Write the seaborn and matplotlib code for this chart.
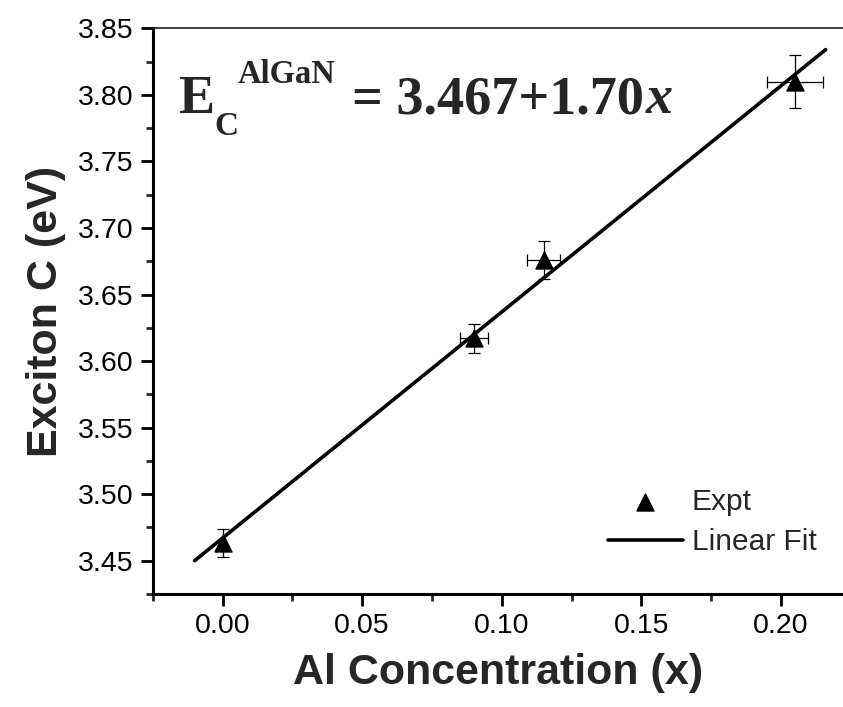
import matplotlib
matplotlib.use("Agg")
import matplotlib.pyplot as plt
import seaborn as sns
import pandas as pd

al_conc = [0.0, 0.09, 0.115, 0.205]
exciton_c = [3.463, 3.617, 3.676, 3.810]
x_err = [0.0, 0.005, 0.006, 0.010]
y_err = [0.0105, 0.011, 0.014, 0.020]

# linear fit line end points
fit_x = [-0.010, 0.216]
fit_y = [3.450, 3.834]

xticks = [0.00, 0.05, 0.10, 0.15, 0.20]
yticks = [3.45, 3.50, 3.55, 3.60, 3.65, 3.70, 3.75, 3.80, 3.85]

sns.set_style("ticks")
plt.rcParams["font.family"] = ["Liberation Sans", "DejaVu Sans"]

fig = plt.figure(figsize=(8.43, 7.07), dpi=100)
ax = fig.add_axes([152.7 / 843, 113 / 707, 1 - 152.7 / 843, (594 - 28.3) / 707])

df_fit = pd.DataFrame({"x": fit_x, "y": fit_y})
df_pts = pd.DataFrame({"x": al_conc, "y": exciton_c})

sns.lineplot(data=df_fit, x="x", y="y", ax=ax, color="black", lw=2.6,
             label="Linear Fit", zorder=2)
ax.errorbar(al_conc, exciton_c, xerr=x_err, yerr=y_err, fmt="none",
            ecolor="black", elinewidth=0.9, capsize=4.5, capthick=0.9, zorder=3)
sns.scatterplot(data=df_pts, x="x", y="y", ax=ax, marker="^", s=150,
                color="black", edgecolor="black", label="Expt", zorder=4)

ax.set_xlim(-0.025, 0.2222)
ax.set_ylim(3.425, 3.85)
ax.set_xticks(xticks)
ax.set_xticklabels([f"{v:.2f}" for v in xticks])
ax.set_yticks(yticks)
ax.set_yticklabels([f"{v:.2f}" for v in yticks])
ax.set_xticks([-0.025, 0.025, 0.075, 0.125, 0.175], minor=True)
ax.set_yticks([3.425, 3.475, 3.525, 3.575, 3.625, 3.675, 3.725, 3.775, 3.825], minor=True)
ax.tick_params(which="major", direction="out", length=8.5, width=2.0,
               labelsize=20.5, colors="black", pad=5)
ax.tick_params(which="minor", direction="out", length=5, width=2.0)

for s in ["left", "bottom"]:
    ax.spines[s].set_linewidth(2.2)
    ax.spines[s].set_color("black")
ax.spines["top"].set_linewidth(1.2)
ax.spines["top"].set_color("#222222")
ax.spines["right"].set_visible(False)

ax.set_xlabel("Al Concentration (x)", fontsize=31, fontweight="bold", labelpad=10)
ax.set_ylabel("Exciton C (eV)", fontsize=31, fontweight="bold", labelpad=9)

handles, labels = ax.get_legend_handles_labels()
order = [labels.index("Expt"), labels.index("Linear Fit")]
ax.legend([handles[i] for i in order], [labels[i] for i in order],
          loc="center left", bbox_to_anchor=(608 / 843, 1 - 522 / 707),
          bbox_transform=fig.transFigure, frameon=False, fontsize=21.5,
          handlelength=2.5, handletextpad=0.3, labelspacing=0.4,
          borderpad=0, borderaxespad=0, markerscale=1.0)

# equation annotation
serif = ["Liberation Serif", "DejaVu Serif"]
def fx(px):
    return px / 843
def fy(py):
    return 1 - py / 707

fig.text(fx(178), fy(113), "E", family=serif, fontweight="bold", fontsize=39, va="baseline")
fig.text(fx(214), fy(135), "C", family=serif, fontweight="bold", fontsize=24, va="baseline")
fig.text(fx(238), fy(83), "AlGaN", family=serif, fontweight="bold", fontsize=23.5, va="baseline")
t = fig.text(fx(352), fy(113), "= 3.467+1.70", family=serif, fontweight="bold",
             fontsize=39, va="baseline")
fig.canvas.draw()
bb = t.get_window_extent()
fig.text(bb.x1 / fig.bbox.width + 0.002, fy(113), "x", family=serif, fontweight="bold",
         fontstyle="italic", fontsize=39, va="baseline")

fig.savefig("out.png", dpi=100)
